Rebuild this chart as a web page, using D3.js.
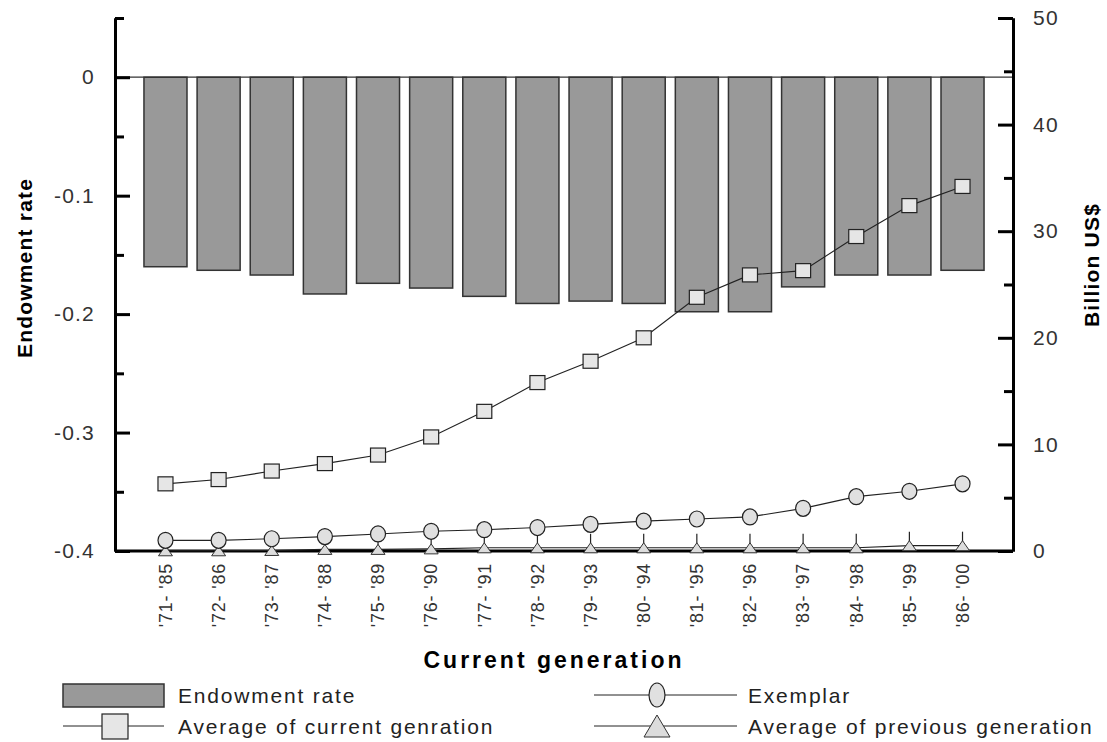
<!DOCTYPE html>
<html>
<head>
<meta charset="utf-8">
<script src="https://cdn.jsdelivr.net/npm/d3@7"></script>
<style>
  html, body { margin: 0; padding: 0; background: #fff; }
  svg { display: block; }
  text { font-family: "Liberation Sans", Arial, sans-serif; }
</style>
</head>
<body>
<svg id="chart" width="1107" height="742"></svg>
<script>
// ---- data ----
const categories = ["'71- '85","'72- '86","'73- '87","'74- '88","'75- '89","'76- '90","'77- '91","'78- '92",
                    "'79- '93","'80- '94","'81- '95","'82- '96","'83- '97","'84- '98","'85- '99","'86- '00"];
const endowmentRate = [-0.160,-0.163,-0.167,-0.183,-0.174,-0.178,-0.185,-0.191,
                       -0.189,-0.191,-0.198,-0.198,-0.177,-0.167,-0.167,-0.163];
const avgCurrent = [6.3,6.7,7.5,8.2,9.0,10.7,13.1,15.8,17.8,20.0,23.8,25.9,26.3,29.5,32.4,34.2];
const exemplar = [1.0,1.0,1.15,1.35,1.6,1.85,2.0,2.2,2.5,2.8,3.0,3.2,4.0,5.1,5.6,6.3];
const avgPrevious = [0.02,0.02,0.05,0.15,0.15,0.2,0.3,0.3,0.3,0.3,0.3,0.3,0.3,0.3,0.5,0.5];
const leftTicks = [0,-0.1,-0.2,-0.3,-0.4];
const leftTickLabels = ["0","-0.1","-0.2","-0.3","-0.4"];
const leftMinor = [0.05,-0.05,-0.15,-0.25,-0.35];
const rightTicks = [0,10,20,30,40,50];
const rightTickLabels = ["0","10","20","30","40","50"];
const rightMinor = [5,15,25,35,45];
const legendLabels = ["Endowment rate","Average of current genration","Exemplar","Average of previous generation"];

// ---- layout ----
const L = 115, R = 1013, T = 18, B = 551;
const svg = d3.select("#chart");

const x = d3.scaleBand().domain(categories).range([L, R]).paddingInner(0.19).paddingOuter(0.545);
const yL = d3.scaleLinear().domain([-0.4, 0.05]).range([B, T]);
const yR = d3.scaleLinear().domain([0, 50]).range([B, T]);
const cx = c => x(c) + x.bandwidth() / 2;

// bars
svg.append("g").selectAll("rect").data(categories).join("rect")
  .attr("x", d => x(d))
  .attr("width", x.bandwidth())
  .attr("y", yL(0))
  .attr("height", (d, i) => yL(endowmentRate[i]) - yL(0))
  .attr("fill", "#999999")
  .attr("stroke", "#333")
  .attr("stroke-width", 1.5);

// zero line
svg.append("line")
  .attr("x1", L).attr("x2", R).attr("y1", yL(0)).attr("y2", yL(0))
  .attr("stroke", "#333").attr("stroke-width", 1.2);

// axes
const fontTick = g => g.selectAll("text")
  .attr("font-size", 21).attr("fill", "#333").attr("letter-spacing", 1.2)
  .attr("font-family", "'Liberation Sans', Arial, sans-serif");

const axL = svg.append("g").attr("transform", `translate(${L},0)`)
  .call(d3.axisLeft(yL).tickValues(leftTicks).tickFormat((d, i) => leftTickLabels[i])
        .tickSizeInner(-15).tickSizeOuter(0).tickPadding(20));
axL.call(fontTick);
svg.append("g").attr("transform", `translate(${L},0)`)
  .call(d3.axisLeft(yL).tickValues(leftMinor).tickFormat("").tickSizeInner(-9).tickSizeOuter(0));

const axR = svg.append("g").attr("transform", `translate(${R},0)`)
  .call(d3.axisRight(yR).tickValues(rightTicks).tickFormat((d, i) => rightTickLabels[i])
        .tickSizeInner(-15).tickSizeOuter(0).tickPadding(20));
axR.call(fontTick);
svg.append("g").attr("transform", `translate(${R},0)`)
  .call(d3.axisRight(yR).tickValues(rightMinor).tickFormat("").tickSizeInner(-9).tickSizeOuter(0));

svg.selectAll(".domain").attr("stroke", "#000").attr("stroke-width", 3);
svg.selectAll(".tick line").attr("stroke", "#000").attr("stroke-width", 3);

// bottom axis
const axB = svg.append("g").attr("transform", `translate(0,${B})`)
  .call(d3.axisBottom(x).tickSize(0).tickPadding(0));
axB.select(".domain").attr("d", `M${L},0H${R}`).attr("stroke", "#000").attr("stroke-width", 3);
axB.selectAll(".tick text")
  .attr("transform", "translate(0,12) rotate(-90)")
  .attr("text-anchor", "end")
  .attr("dy", "0.35em")
  .attr("x", 0).attr("y", 0)
  .attr("font-size", 18).attr("fill", "#333").attr("letter-spacing", 0.8)
  .attr("font-family", "'Liberation Sans', Arial, sans-serif");

// lines
const lineGen = (vals) => d3.line().x((d, i) => cx(categories[i])).y(d => yR(d))(vals);
[avgPrevious, exemplar, avgCurrent].forEach(vals => {
  svg.append("path").attr("d", lineGen(vals)).attr("fill", "none")
    .attr("stroke", "#222").attr("stroke-width", 1.1);
});

// markers
const mk = svg.append("g");
// triangles with stem
categories.forEach((c, i) => {
  const px = cx(c), py = yR(avgPrevious[i]);
  mk.append("line").attr("x1", px).attr("x2", px).attr("y1", py - 14).attr("y2", py - 4)
    .attr("stroke", "#222").attr("stroke-width", 1.2);
  mk.append("path").attr("d", `M${px},${py - 5}L${px + 7},${py + 5}L${px - 7},${py + 5}Z`)
    .attr("fill", "#dcdcdc").attr("stroke", "#333").attr("stroke-width", 1);
});
mk.selectAll("ellipse.c").data(exemplar).join("ellipse")
  .attr("cx", (d, i) => cx(categories[i])).attr("cy", d => yR(d))
  .attr("rx", 7.5).attr("ry", 8)
  .attr("fill", "#e0e0e0").attr("stroke", "#222").attr("stroke-width", 1.2);
mk.selectAll("rect.s").data(avgCurrent).join("rect")
  .attr("x", (d, i) => cx(categories[i]) - 7.5).attr("y", d => yR(d) - 7)
  .attr("width", 15).attr("height", 14)
  .attr("fill", "#e6e6e6").attr("stroke", "#222").attr("stroke-width", 1.2);

// axis titles
svg.append("text").attr("transform", "translate(24,268) rotate(-90)")
  .attr("text-anchor", "middle").attr("dominant-baseline", "central")
  .attr("font-weight", "bold").attr("font-size", 21).attr("letter-spacing", 1.2)
  .text("Endowment rate");
svg.append("text").attr("transform", "translate(1091,265) rotate(-90)")
  .attr("text-anchor", "middle").attr("dominant-baseline", "central")
  .attr("font-weight", "bold").attr("font-size", 21).attr("letter-spacing", 1.2)
  .text("Billion US$");
svg.append("text").attr("x", 554).attr("y", 668)
  .attr("text-anchor", "middle")
  .attr("font-weight", "bold").attr("font-size", 23).attr("letter-spacing", 3)
  .text("Current generation");

// legend
const lg = svg.append("g");
const row1 = 695, row2 = 726;
lg.append("rect").attr("x", 63).attr("y", row1 - 11).attr("width", 101).attr("height", 23)
  .attr("fill", "#999999").attr("stroke", "#333").attr("stroke-width", 1.5);
lg.append("line").attr("x1", 63).attr("x2", 164).attr("y1", row2).attr("y2", row2).attr("stroke", "#222");
lg.append("rect").attr("x", 102).attr("y", row2 - 12).attr("width", 26).attr("height", 25)
  .attr("fill", "#e6e6e6").attr("stroke", "#222").attr("stroke-width", 1.2);

lg.append("line").attr("x1", 594).attr("x2", 737).attr("y1", row1).attr("y2", row1).attr("stroke", "#222");
lg.append("ellipse").attr("cx", 657).attr("cy", row1).attr("rx", 8).attr("ry", 12)
  .attr("fill", "#e0e0e0").attr("stroke", "#222").attr("stroke-width", 1.2);
lg.append("line").attr("x1", 594).attr("x2", 737).attr("y1", row2).attr("y2", row2).attr("stroke", "#222");
lg.append("path").attr("d", `M657,${row2 - 11}L670,${row2 + 11}L644,${row2 + 11}Z`)
  .attr("fill", "#dcdcdc").attr("stroke", "#333").attr("stroke-width", 1);

const legText = [[178,row1,0],[178,row2,1],[748,row1,2],[748,row2,3]];
legText.forEach(([lx, ly, k]) => {
  lg.append("text").attr("x", lx).attr("y", ly).attr("dominant-baseline", "central")
    .attr("font-size", 21).attr("fill", "#222").attr("letter-spacing", 1.8)
    .text(legendLabels[k]);
});
</script>
</body>
</html>
